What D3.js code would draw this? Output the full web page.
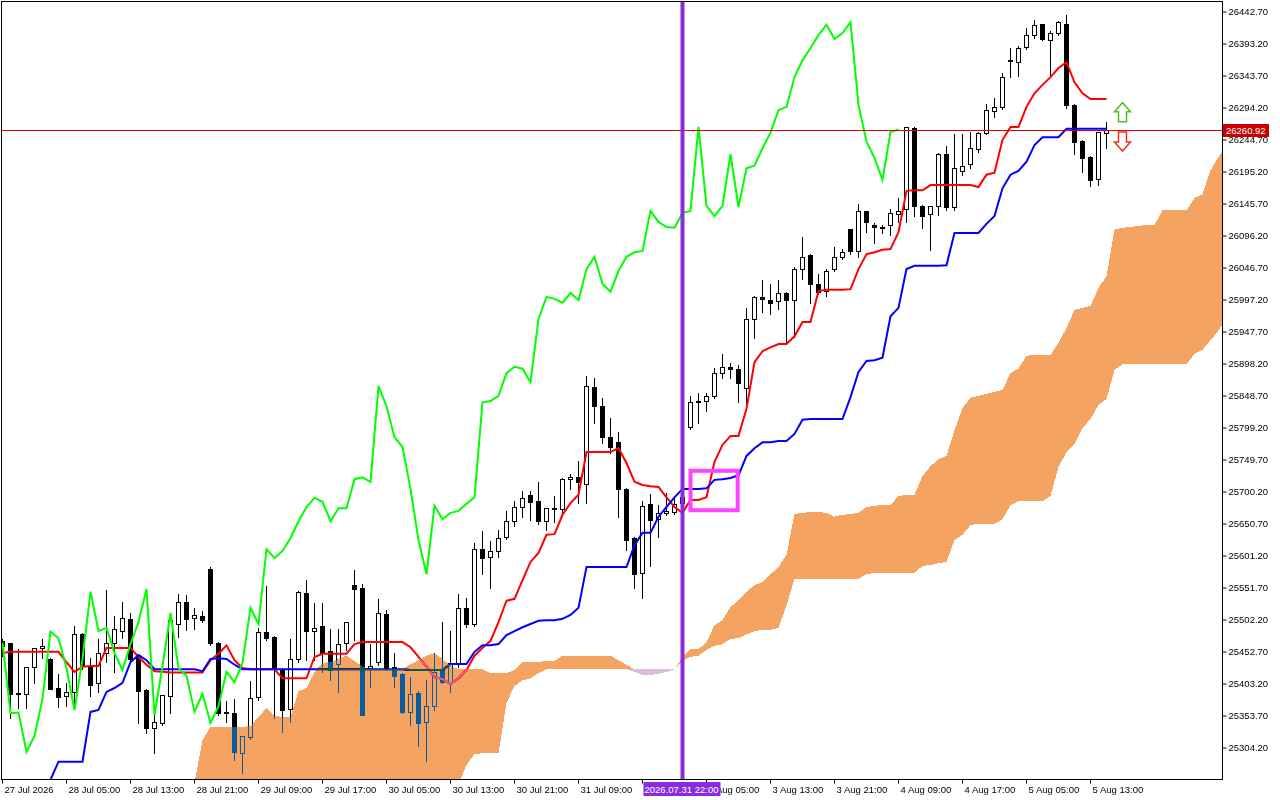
<!DOCTYPE html>
<html>
<head>
<meta charset="utf-8">
<script src="https://cdn.jsdelivr.net/npm/d3@7"></script>
<style>
  html, body { margin: 0; padding: 0; background: #fff; }
  svg { display: block; }
  text { font-family: "Liberation Sans", Arial, sans-serif; font-size: 9.5px; }
</style>
</head>
<body>
<svg width="1280" height="800"></svg>
<script>
// свечи H1, индекс бара 0..138
const opens = [
  25470,25467,25389,25389,25430,25459,25442,25397,25385,25391,
  25480,25430,25405,25451,25467,25485,25504,25448,25394,25335,
  25343,25385,25496,25530,25505,25508,25581,25467,25360,25358,
  25296,25321,25383,25484,25476,25425,25364,25442,25544,25485,
  25493,25454,25434,25467,25556,25552,25428,25437,25511,25430,
  25419,25360,25389,25344,25369,25425,25406,25434,25521,25496,
  25612,25600,25609,25631,25655,25677,25696,25686,25655,25674,
  25674,25720,25723,25713,25863,25833,25785,25778,25705,25629,
  25575,25682,25658,25668,25669,25682,25801,25839,25841,25849,
  25884,25894,25891,25861,25968,26002,25997,25996,26008,25997,
  26045,26067,26022,26011,26045,26064,26107,26073,26135,26113,
  26110,26113,26130,26138,26263,26143,26130,26143,26223,26141,
  26197,26208,26231,26256,26290,26296,26367,26365,26389,26407,
  26424,26399,26410,26424,26299,26243,26218,26184,26257
];
const highs = [
  25474,25467,25459,25430,25459,25474,25445,25420,25406,25494,
  25484,25445,25474,25550,25510,25532,25515,25451,25397,25360,
  25386,25511,25544,25542,25522,25518,25586,25470,25378,25381,
  25323,25409,25491,25556,25479,25430,25474,25549,25566,25530,
  25530,25490,25490,25501,25581,25559,25467,25536,25519,25453,
  25422,25416,25394,25411,25453,25501,25487,25544,25538,25623,
  25641,25626,25643,25672,25688,25703,25703,25717,25675,25696,
  25723,25730,25750,25881,25878,25847,25816,25795,25708,25632,
  25688,25699,25682,25700,25696,25697,25850,25855,25855,25894,
  25915,25901,25898,25986,26005,26030,26023,26030,26011,26050,
  26096,26070,26039,26047,26081,26078,26109,26147,26136,26118,
  26115,26140,26157,26266,26266,26146,26144,26226,26237,26256,
  26256,26259,26259,26302,26311,26350,26389,26392,26420,26432,
  26426,26415,26430,26440,26302,26246,26221,26259,26274
];
const lows = [
  25446,25351,25366,25366,25405,25443,25395,25368,25369,25374,
  25426,25385,25391,25437,25422,25474,25440,25343,25327,25296,
  25340,25358,25476,25487,25488,25499,25463,25355,25344,25286,
  25266,25318,25378,25471,25351,25329,25344,25437,25440,25440,
  25422,25409,25391,25456,25471,25355,25398,25433,25425,25398,
  25358,25340,25307,25284,25363,25405,25391,25430,25491,25493,
  25573,25552,25600,25628,25648,25662,25657,25651,25641,25654,
  25665,25705,25683,25683,25807,25776,25761,25662,25610,25552,
  25536,25586,25631,25665,25666,25675,25798,25807,25825,25846,
  25877,25877,25839,25838,25938,25979,25976,25983,25931,25940,
  26030,25993,26007,26003,26042,26061,26068,26064,26102,26085,
  26101,26098,26118,26118,26127,26109,26075,26129,26136,26136,
  26191,26201,26226,26254,26280,26293,26342,26344,26385,26403,
  26399,26345,26407,26294,26223,26195,26174,26175,26232
];
const closes = [
  25462,25388,25388,25430,25459,25462,25395,25383,25391,25480,
  25430,25402,25451,25467,25488,25505,25442,25392,25335,25344,
  25386,25502,25530,25504,25510,25502,25467,25358,25359,25298,
  25323,25381,25484,25474,25428,25363,25442,25546,25485,25490,
  25451,25425,25465,25499,25550,25355,25431,25513,25428,25416,
  25360,25388,25343,25369,25422,25406,25436,25521,25496,25612,
  25598,25609,25629,25655,25677,25691,25685,25655,25675,25675,
  25720,25723,25716,25864,25833,25785,25770,25705,25626,25573,
  25679,25658,25668,25671,25682,25692,25839,25841,25849,25884,
  25894,25891,25870,25968,26002,25999,25993,26008,25997,26045,
  26064,26022,26010,26042,26064,26071,26073,26135,26118,26110,
  26109,26132,26135,26265,26143,26127,26143,26223,26141,26201,
  26205,26232,26256,26291,26296,26342,26368,26387,26407,26423,
  26401,26410,26427,26299,26242,26217,26183,26257,26260.92
];

// Ишимоку: тенкан (красная), киджун (синяя), чикоу (зелёная)
const tenkan = [
  25451,25453,25453,25453,25453,25453,25453,25453,25437,25422,
  25430,25431,25431,25459,25459,25459,25459,25445,25433,25423,
  25422,25421,25421,25421,25421,25421,25440,25450,25463,25440,
  25428,25426,25426,25426,25426,25412,25412,25412,25412,25445,
  25450,25450,25450,25450,25465,25468,25468,25468,25468,25468,
  25468,25460,25445,25430,25414,25411,25403,25412,25425,25447,
  25459,25470,25499,25532,25535,25564,25592,25606,25634,25635,
  25665,25683,25696,25762,25762,25762,25762,25768,25745,25716,
  25711,25709,25708,25692,25677,25668,25688,25688,25692,25747,
  25773,25787,25787,25829,25901,25918,25924,25929,25929,25941,
  25963,25963,26011,26013,26013,26013,26014,26045,26068,26071,
  26075,26076,26102,26166,26167,26167,26175,26175,26175,26175,
  26175,26175,26172,26191,26194,26245,26265,26265,26296,26317,
  26330,26342,26356,26365,26334,26317,26308,26308,26308
];
const kijun = [
  25224,25224,25224,25224,25224,25224,25255,25283,25283,25283,
  25283,25360,25363,25391,25397,25405,25437,25448,25440,25426,
  25426,25426,25426,25426,25426,25423,25442,25443,25442,25433,
  25426,25426,25426,25426,25426,25426,25426,25426,25426,25426,
  25426,25426,25426,25426,25426,25426,25426,25426,25426,25426,
  25426,25425,25425,25425,25425,25425,25434,25434,25434,25453,
  25463,25463,25465,25479,25485,25491,25496,25501,25502,25502,
  25504,25510,25521,25584,25584,25584,25584,25584,25584,25618,
  25637,25637,25662,25677,25692,25705,25705,25705,25706,25719,
  25720,25722,25726,25756,25768,25777,25777,25779,25779,25790,
  25812,25813,25813,25813,25813,25813,25847,25886,25903,25904,
  25908,25972,25985,26045,26050,26050,26050,26050,26051,26101,
  26101,26101,26101,26115,26127,26170,26191,26197,26211,26237,
  26249,26249,26249,26262,26262,26262,26262,26262,26262
];
const chikou = [
  25467,25358,25359,25298,25323,25381,25484,25474,25428,25363,
  25442,25546,25485,25490,25451,25425,25465,25499,25550,25355,
  25431,25513,25428,25416,25360,25388,25343,25369,25422,25406,
  25436,25521,25496,25612,25598,25609,25629,25655,25677,25691,
  25685,25655,25675,25675,25720,25723,25716,25864,25833,25785,
  25770,25705,25626,25573,25679,25658,25668,25671,25682,25692,
  25839,25841,25849,25884,25894,25891,25870,25968,26002,25999,
  25993,26008,25997,26045,26064,26022,26010,26042,26064,26071,
  26073,26135,26118,26110,26109,26132,26135,26265,26143,26127,
  26143,26223,26141,26201,26205,26232,26256,26291,26296,26342,
  26368,26387,26407,26423,26401,26410,26427,26299,26242,26217,
  26183,26257,26260.92
];

// облако: Senkou A / Senkou B, с бара 24 по 153 (сдвинуто вперёд)
const cloudStart = 24;
const spanA = [
  25251,25316,25337,25337,25337,25337,25337,25338,25352,25366,
  25354,25352,25352,25392,25397,25422,25436,25437,25442,25447,
  25439,25430,25426,25426,25426,25426,25426,25434,25440,25447,
  25451,25442,25431,25426,25426,25426,25426,25420,25420,25420,
  25425,25437,25437,25437,25439,25439,25447,25447,25447,25447,
  25447,25447,25447,25440,25433,25422,25417,25417,25419,25422,
  25426,25445,25457,25457,25468,25494,25502,25522,25533,25546,
  25556,25561,25573,25584,25603,25666,25668,25669,25669,25668,
  25662,25665,25666,25668,25677,25679,25680,25680,25694,25696,
  25696,25725,25740,25751,25756,25796,25830,25846,25849,25852,
  25855,25858,25884,25891,25911,25912,25912,25912,25931,25954,
  25982,25985,25988,26016,26034,26106,26109,26110,26112,26113,
  26113,26136,26136,26136,26136,26155,26161,26198,26218,26237
];
const spanB = [
  25190,25190,25190,25190,25190,25190,25190,25190,25190,25190,
  25190,25190,25190,25190,25190,25190,25190,25190,25190,25190,
  25190,25190,25190,25190,25190,25190,25190,25190,25190,25190,
  25190,25190,25215,25247,25278,25295,25296,25296,25296,25374,
  25400,25409,25412,25420,25426,25426,25426,25426,25426,25426,
  25426,25426,25426,25426,25426,25426,25426,25426,25426,25426,
  25426,25439,25445,25447,25456,25462,25465,25473,25474,25480,
  25485,25487,25487,25490,25525,25566,25566,25566,25566,25566,
  25566,25566,25566,25566,25573,25575,25575,25575,25575,25575,
  25575,25586,25587,25590,25592,25626,25634,25649,25651,25651,
  25651,25658,25680,25686,25686,25686,25686,25694,25739,25762,
  25774,25799,25813,25835,25844,25889,25898,25898,25898,25898,
  25898,25898,25898,25898,25898,25914,25920,25935,25950,25969
];

// подписи осей (подпись бара 80 закрыта меткой линии, поэтому пустая)
const priceTicks = [
  26442.70,26393.20,26343.70,26294.20,26244.70,26195.20,26145.70,26096.20,
  26046.70,25997.20,25947.70,25898.20,25848.70,25799.20,25749.70,25700.20,
  25650.70,25601.20,25551.70,25502.20,25452.70,25403.20,25353.70,25304.20
];
const tickBars = [0,8,16,24,32,40,48,56,64,72,80,88,96,104,112,120,128,136];
const tickLabels = [
  "27 Jul 2026","28 Jul 05:00","28 Jul 13:00","28 Jul 21:00","29 Jul 09:00",
  "29 Jul 17:00","30 Jul 05:00","30 Jul 13:00","30 Jul 21:00","31 Jul 09:00",
  "","3 Aug 05:00","3 Aug 13:00","3 Aug 21:00","4 Aug 09:00",
  "4 Aug 17:00","5 Aug 05:00","5 Aug 13:00"
];

// объекты на графике
const lastPrice = 26260.92;
const markerBar = 85;
const markerLabel = "2026.07.31 22:00";
const boxBars = [86, 91.9];
const boxPrices = [25733, 25672];
const signals = [
  {bar: 140, price: 26273, dir: "up"},
  {bar: 140, price: 26257, dir: "down"}
];

const svg = d3.select("svg");
const width = +svg.attr("width");
const height = +svg.attr("height");
const plot = {left: 2, top: 2, right: 1222, bottom: 779};

const x = d3.scaleLinear().domain([0, 1]).range([2.5, 10.5]);
const y = d3.scaleLinear().domain([25304.2, 26442.7]).range([748, 12]);

svg.append("rect").attr("width", width).attr("height", height).attr("fill", "#fff");

svg.append("defs").append("clipPath").attr("id", "plot-clip")
  .append("rect")
  .attr("x", plot.left).attr("y", plot.top)
  .attr("width", plot.right - plot.left).attr("height", plot.bottom - plot.top);

// свечи
const bars = d3.range(closes.length);
const cg = svg.append("g").attr("clip-path", "url(#plot-clip)").attr("shape-rendering", "crispEdges");
cg.selectAll("line").data(bars).join("line")
  .attr("x1", i => x(i)).attr("x2", i => x(i))
  .attr("y1", i => Math.round(y(highs[i])) + 0.5)
  .attr("y2", i => Math.round(y(lows[i])) + 0.5)
  .attr("stroke", "#000");
cg.selectAll("rect").data(bars).join("rect")
  .attr("x", i => x(i) - 2)
  .attr("width", 4)
  .attr("y", i => Math.round(y(Math.max(opens[i], closes[i]))) + 0.5)
  .attr("height", i => Math.round(Math.abs(y(opens[i]) - y(closes[i]))))
  .attr("fill", i => closes[i] >= opens[i] ? "#fff" : "#000")
  .attr("stroke", "#000");

// линии индикатора
const lg = svg.append("g").attr("clip-path", "url(#plot-clip)").attr("fill", "none").attr("stroke-width", 2);
const line = d3.line().x((d, i) => x(i)).y(d => y(d));
lg.append("path").attr("d", line(tenkan)).attr("stroke", "#ff0000");
lg.append("path").attr("d", line(kijun)).attr("stroke", "#0000ff");
lg.append("path").attr("d", line(chikou)).attr("stroke", "#00ff00");

// облако рисуется поверх с разностным смешиванием, как в терминале
const cloud = spanA.map((a, k) => ({i: cloudStart + k, a: a, b: spanB[k]}));
const kg = svg.append("g").attr("clip-path", "url(#plot-clip)")
  .style("mix-blend-mode", "difference").attr("shape-rendering", "crispEdges");
kg.append("path")
  .attr("d", d3.area().x(d => x(d.i)).y0(d => y(d.b)).y1(d => y(Math.max(d.a, d.b)))(cloud))
  .attr("fill", "#0b5b9f");
kg.append("path")
  .attr("d", d3.area().x(d => x(d.i)).y0(d => y(d.b)).y1(d => y(Math.min(d.a, d.b)))(cloud))
  .attr("fill", "#274027");

// линия текущей цены
svg.append("line")
  .attr("x1", plot.left).attr("x2", plot.right)
  .attr("y1", Math.round(y(lastPrice)) + 0.5).attr("y2", Math.round(y(lastPrice)) + 0.5)
  .attr("stroke", "#e00000").attr("shape-rendering", "crispEdges");

// вертикальная линия и прямоугольник
svg.append("line")
  .attr("x1", x(markerBar)).attr("x2", x(markerBar))
  .attr("y1", plot.top).attr("y2", plot.bottom)
  .attr("stroke", "#8a2be2").attr("stroke-width", 4);

svg.append("rect")
  .attr("x", x(boxBars[0])).attr("y", y(boxPrices[0]))
  .attr("width", x(boxBars[1]) - x(boxBars[0]))
  .attr("height", y(boxPrices[1]) - y(boxPrices[0]))
  .attr("fill", "none").attr("stroke", "#ff44ff").attr("stroke-width", 4);

// стрелки
const upShape = "M-4,0 L4,0 L4,-10 L8,-10 L0,-19 L-8,-10 L-4,-10 Z";
const downShape = "M-4,0 L4,0 L4,10 L8,10 L0,19 L-8,10 L-4,10 Z";
svg.selectAll("path.signal").data(signals).join("path")
  .attr("class", "signal")
  .attr("transform", d => `translate(${x(d.bar)},${y(d.price)})`)
  .attr("d", d => d.dir === "up" ? upShape : downShape)
  .attr("fill", "#fff")
  .attr("stroke", d => d.dir === "up" ? "#55bb22" : "#ee3322")
  .attr("stroke-width", 1.5);

// рамка
svg.append("rect")
  .attr("x", 1.5).attr("y", 1.5)
  .attr("width", plot.right - 1).attr("height", plot.bottom - 1)
  .attr("fill", "none").attr("stroke", "#000").attr("shape-rendering", "crispEdges");

// ось цен
const ay = svg.append("g").attr("transform", `translate(${plot.right + 0.5},0)`)
  .call(d3.axisRight(y).tickValues(priceTicks).tickFormat(d3.format(".2f"))
    .tickSize(4).tickPadding(2).offset(0));
ay.select(".domain").remove();
ay.selectAll("text").attr("fill", "#000").style("font-size", "9.5px");

// ось времени
const ax = svg.append("g").attr("transform", `translate(0,${plot.bottom + 0.5})`)
  .call(d3.axisBottom(x).tickValues(tickBars).tickFormat((d, i) => tickLabels[i])
    .tickSize(4).tickPadding(3).offset(0));
ax.select(".domain").remove();
ax.selectAll("text").attr("text-anchor", "start").attr("x", 2).attr("fill", "#000").style("font-size", "9.5px");

// метка текущей цены
const py = Math.round(y(lastPrice));
svg.append("rect").attr("x", plot.right + 1).attr("y", py - 6).attr("width", 46).attr("height", 13).attr("fill", "#cc0000");
svg.append("text").attr("x", plot.right + 4).attr("y", py + 4).attr("fill", "#fff").text(lastPrice.toFixed(2));

// метка вертикальной линии
const mx = x(markerBar);
svg.append("rect").attr("x", mx - 39).attr("y", 782).attr("width", 77).attr("height", 14).attr("fill", "#8a2be2");
svg.append("text").attr("x", mx - 1).attr("y", 793).attr("text-anchor", "middle").attr("fill", "#fff").text(markerLabel);
</script>
</body>
</html>
